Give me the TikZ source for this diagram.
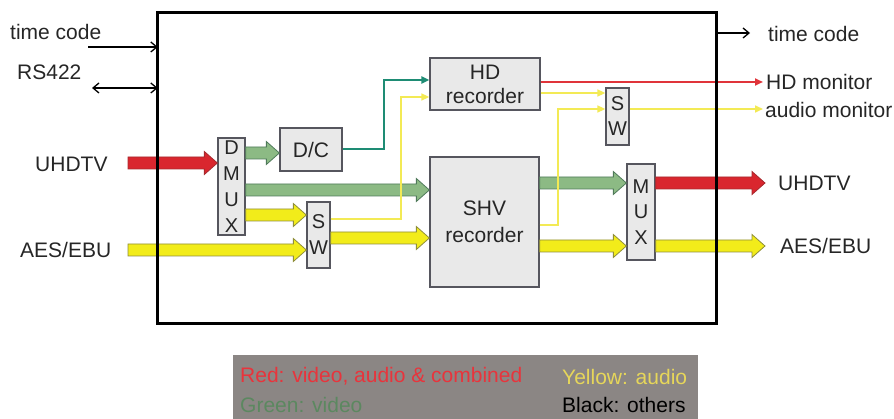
\documentclass[tikz,border=0pt]{standalone}
\usepackage{fontspec}
\setmainfont{Liberation Sans}
\usetikzlibrary{arrows.meta,calc}
\definecolor{fatred}{HTML}{D9262E}
\definecolor{fatredline}{HTML}{A62A2E}
\definecolor{fatgreen}{HTML}{8CBA84}
\definecolor{fatgreenline}{HTML}{4F7A5A}
\definecolor{fatyellow}{HTML}{F2EC1A}
\definecolor{fatyellowline}{HTML}{8F8E3A}
\definecolor{thinyellow}{HTML}{F3EA55}
\definecolor{tealline}{HTML}{1E8C74}
\definecolor{thinred}{HTML}{E0343A}
\definecolor{boxfill}{HTML}{E9E9E9}
\definecolor{boxline}{HTML}{56565E}
\definecolor{legendbg}{HTML}{8B8684}
\definecolor{legred}{HTML}{E8343C}
\definecolor{legyellow}{HTML}{E6D65A}
\definecolor{leggreen}{HTML}{5C8860}
\newcommand\myfatarrow[3]{\path[#1] let \p1=(#2), \p2=(#3) in
  (\x1,\y1+6pt) -- (\x2-13pt,\y1+6pt) -- (\x2-13pt,\y1+11.5pt) -- (\x2,\y1)
  -- (\x2-13pt,\y1-11.5pt) -- (\x2-13pt,\y1-6pt) -- (\x1,\y1-6pt) -- cycle;}
\begin{document}
\begin{tikzpicture}[x=1pt,y=-1pt,
  font=\fontsize{21}{24}\selectfont,
  blk/.style={draw=boxline, fill=boxfill, line width=1.3pt, inner sep=0pt, text=black!85},
  stack/.style={align=center, font=\fontsize{20}{26}\selectfont},
  lbl/.style={anchor=west, inner sep=0pt, text=black!85},
  redfat/.style={fill=fatred, draw=fatredline, line width=0.8pt},
  greenfat/.style={fill=fatgreen, draw=fatgreenline, line width=0.8pt},
  yellowfat/.style={fill=fatyellow, draw=fatyellowline, line width=0.8pt},
  blackarrow/.style={draw=black, line width=1.3pt, -{Straight Barb[length=6pt,width=10pt]}},
  yelthin/.style={draw=thinyellow, line width=1.6pt, -{Triangle[length=8pt,width=7pt]}},
  tealthin/.style={draw=tealline, line width=2pt, -{Triangle[length=8pt,width=7pt]}},
  redthin/.style={draw=thinred, line width=2pt, -{Triangle[length=8pt,width=7pt]}}
]
\useasboundingbox (0,0) rectangle (894,419);

\node[minimum width=558pt, minimum height=310pt, inner sep=0pt] (main) at (437,168) {};

% blocks
\node[blk, minimum width=110pt, minimum height=52pt, align=center, font=\fontsize{21}{24}\selectfont] (hd) at (485,84) {HD\\recorder};
\node[blk, minimum width=109pt, minimum height=130pt, align=center, font=\fontsize{21}{27}\selectfont] (shv) at (484.5,222) {SHV\\recorder};
\node[blk, minimum width=62pt, minimum height=43pt] (dc) at (311,149.5) {D/C};
\node[blk, stack, minimum width=27pt, minimum height=97pt] (dmux) at (231.5,186.5) {D\\M\\U\\X};
\node[blk, stack, minimum width=23pt, minimum height=66pt] (swa) at (318.5,235) {S\\W};
\node[blk, stack, minimum width=28pt, minimum height=96pt, font=\fontsize{20}{25.5}\selectfont] (mux) at (641,212) {M\\U\\X};
\node[blk, stack, minimum width=23pt, minimum height=57pt, font=\fontsize{20}{25}\selectfont] (swb) at (617.5,116.5) {S\\W};

% outside labels
\node[lbl] (tcin) at (10,32) {time code};
\node[lbl] (rs) at (17,72) {RS422};
\node[lbl] (uhdin) at (35,164) {UHDTV};
\node[lbl] (aesin) at (20,250) {AES/EBU};
\node[lbl] (tcout) at (768,34) {time code};
\node[lbl] (hdmon) at (766,82) {HD monitor};
\node[lbl] (aumon) at (765,110) {audio monitor};
\node[lbl] (uhdout) at (778,183) {UHDTV};
\node[lbl] (aesout) at (780,246) {AES/EBU};

% free ends
\coordinate (tcinS) at (88,47);
\coordinate (rsS) at (92,88);
\coordinate (uhdS) at (128,163);
\coordinate (aesS) at (128,250);
\coordinate (uhdE) at (765,183);
\coordinate (aesE) at (765,246);
\coordinate (tcE) at (750,33);
\coordinate (hdmE) at (763,82);
\coordinate (aumE) at (763,109);

% black connectors
\draw[blackarrow] (tcinS) -- (tcinS -| main.west);
\draw[blackarrow, {Straight Barb[length=6pt,width=10pt]}-{Straight Barb[length=6pt,width=10pt]}] (rsS) -- (rsS -| main.west);
\draw[blackarrow] (main.east |- tcE) -- (tcE);

% fat arrows
\myfatarrow{redfat}{uhdS}{uhdS -| dmux.west}
\myfatarrow{greenfat}{dmux.east |- 0,153}{dc.west |- 0,153}
\myfatarrow{greenfat}{dmux.east |- 0,190}{shv.west |- 0,190}
\myfatarrow{yellowfat}{dmux.east |- 0,215}{swa.west |- 0,215}
\myfatarrow{yellowfat}{aesS}{aesS -| swa.west}
\myfatarrow{yellowfat}{swa.east |- 0,238}{shv.west |- 0,238}
\myfatarrow{greenfat}{shv.east |- 0,183}{mux.west |- 0,183}
\myfatarrow{redfat}{mux.east |- 0,183}{uhdE}
\myfatarrow{yellowfat}{shv.east |- 0,246}{mux.west |- 0,246}
\myfatarrow{yellowfat}{mux.east |- 0,246}{aesE}

% thin connectors
\draw[yelthin] (swa.east |- 0,219) -| (401,97) -- (hd.west |- 0,97);
\draw[tealthin] (dc.east) -| (384,80) -- (hd.west |- 0,80);
\draw[redthin] (hd.east |- 0,82) -- (hdmE);
\draw[yelthin] (hd.east |- 0,93) -- (swb.west |- 0,93);
\draw[yelthin] (shv.east |- 0,225) -| (558,109) -- (swb.west |- 0,109);
\draw[yelthin] (swb.east |- 0,109) -- (aumE);

% frame on top
\draw[line width=3pt] (main.north west) rectangle (main.south east);

% legend
\node[fill=legendbg, minimum width=465pt, minimum height=64pt, inner sep=0pt, anchor=north west] (legend) at (233,355) {};
\node[anchor=west, inner sep=0pt, text=legred] (lr) at (240,376) {Red: video, audio \& combined};
\node[anchor=west, inner sep=0pt, text=legyellow] (ly) at (562,377) {Yellow: audio};
\node[anchor=west, inner sep=0pt, text=leggreen] (lg) at (240,405) {Green: video};
\node[anchor=west, inner sep=0pt, text=black] (lb) at (562,405) {Black: others};
\end{tikzpicture}
\end{document}
